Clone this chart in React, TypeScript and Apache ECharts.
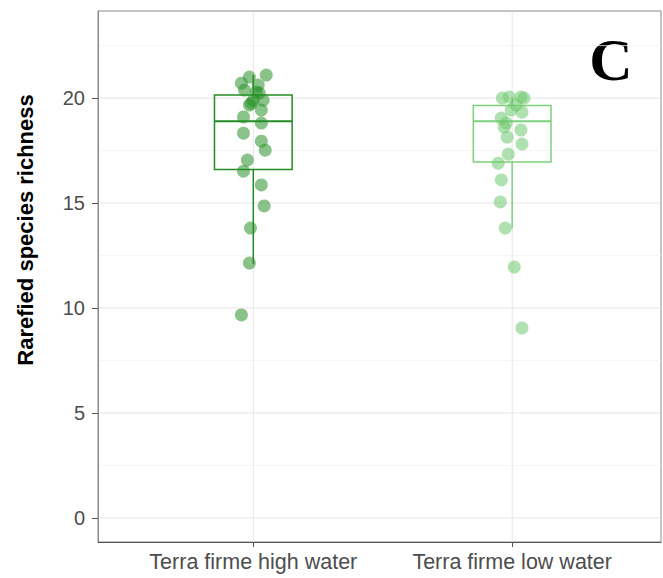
import React, { useEffect, useRef } from "react";
import * as echarts from "echarts";

const categories = ["Terra firme high water", "Terra firme low water"];
const categoryPositions = [1, 2];

// box statistics per group
const whiskerLow = [12.1, 13.8];
const quartile1 = [16.6, 16.95];
const medians = [18.9, 18.9];
const quartile3 = [20.15, 19.65];
const whiskerHigh = [21.1, 20.05];

// jittered points: [offset from category centre, value]
const highWaterPoints: [number, number][] = [
  [-0.046, 9.67], [-0.015, 12.14], [-0.011, 13.81], [0.042, 14.86], [0.031, 15.86],
  [-0.038, 16.52], [-0.023, 17.05], [0.046, 17.52], [0.031, 17.95], [-0.038, 18.33],
  [0.031, 18.81], [-0.038, 19.1], [0.031, 19.43], [-0.015, 19.67], [-0.008, 19.76],
  [0.0, 19.9], [0.038, 19.9], [0.023, 20.24], [0.011, 20.29], [-0.034, 20.38],
  [0.019, 20.62], [-0.046, 20.71], [-0.015, 21.0], [0.05, 21.1],
];
const lowWaterPoints: [number, number][] = [
  [-0.038, 20.0], [-0.011, 20.05], [0.034, 20.05], [0.046, 20.0], [0.015, 19.67],
  [-0.004, 19.43], [0.038, 19.33], [-0.042, 19.05], [-0.023, 18.81], [-0.031, 18.62],
  [0.034, 18.48], [-0.019, 18.14], [0.038, 17.81], [-0.015, 17.33], [-0.054, 16.9],
  [-0.042, 16.1], [-0.046, 15.05], [-0.027, 13.81], [0.008, 11.95], [0.038, 9.05],
];

const yTicks = [0, 5, 10, 15, 20];
const yMinorGrid = [2.5, 7.5, 12.5, 17.5, 22.5];
const yMin = -1.15;
const yMax = 24.15;
const xMin = 0.4;
const xMax = 2.575;

const boxColors = ["#238b23", "#7ccf7c"];
const pointColors = ["rgba(40,145,40,0.68)", "rgba(110,200,110,0.68)"];

export default function App() {
  const ref = useRef<HTMLDivElement>(null);
  useEffect(() => {
    if (!ref.current) return;
    const chart = echarts.init(ref.current, null, { renderer: "svg" });

    const boxData = categoryPositions.map((p, i) => [
      p, whiskerLow[i], quartile1[i], medians[i], quartile3[i], whiskerHigh[i], i,
    ]);

    const hLineRender = (color: string, width: number) => (params: any, api: any) => {
      const cs = params.coordSys;
      const y = api.coord([xMin, api.value(0)])[1];
      return {
        type: "line",
        shape: { x1: cs.x, y1: y, x2: cs.x + cs.width, y2: y },
        style: { stroke: color, lineWidth: width },
        silent: true,
      };
    };

    chart.setOption({
      animation: false,
      grid: {
        left: 98, top: 11, right: 2, bottom: 36,
        show: true, borderColor: "#8a8a8a", borderWidth: 1, backgroundColor: "#ffffff",
      },
      xAxis: {
        type: "value",
        min: xMin,
        max: xMax,
        splitLine: { show: false },
        axisLine: { show: true, onZero: false, lineStyle: { color: "#555555", width: 1 } },
        axisTick: { show: true, customValues: categoryPositions, length: 5, lineStyle: { color: "#555555" } },
        axisLabel: {
          customValues: categoryPositions,
          formatter: (v: number) => categories[Math.round(v) - 1] ?? "",
          color: "#4d4d4d",
          fontSize: 21.5,
          fontFamily: "Liberation Sans, Arial, sans-serif",
          margin: 9,
        },
      },
      yAxis: {
        type: "value",
        min: yMin,
        max: yMax,
        splitLine: { show: false },
        axisLine: { show: true, onZero: false, lineStyle: { color: "#8a8a8a", width: 1 } },
        axisTick: { show: true, customValues: yTicks, length: 6, lineStyle: { color: "#555555" } },
        axisLabel: {
          customValues: yTicks,
          color: "#4d4d4d",
          fontSize: 20,
          fontFamily: "Liberation Sans, Arial, sans-serif",
          margin: 13,
        },
      },
      graphic: [
        {
          type: "text",
          x: 25,
          y: 230,
          rotation: Math.PI / 2,
          style: {
            text: "Rarefied species richness",
            fill: "#000000",
            font: "bold 22px 'Liberation Sans', Arial, sans-serif",
            textAlign: "center",
            textVerticalAlign: "middle",
          },
        },
        {
          type: "text",
          x: 611,
          y: 60,
          style: {
            text: "C",
            fill: "#000000",
            font: "bold 60px 'Liberation Serif', 'Times New Roman', serif",
            textAlign: "center",
            textVerticalAlign: "middle",
          },
        },
      ],
      series: [
        {
          type: "custom",
          name: "minorGrid",
          data: yMinorGrid.map((v) => [v]),
          renderItem: hLineRender("#f4f4f4", 0.8),
          silent: true,
          z: 0,
        },
        {
          type: "custom",
          name: "majorGrid",
          data: yTicks.map((v) => [v]),
          renderItem: hLineRender("#e6e6e6", 1),
          silent: true,
          z: 0,
        },
        {
          type: "custom",
          name: "vGrid",
          data: categoryPositions.map((v) => [v]),
          renderItem: (params: any, api: any) => {
            const cs = params.coordSys;
            const x = api.coord([api.value(0), yMin])[0];
            return {
              type: "line",
              shape: { x1: x, y1: cs.y, x2: x, y2: cs.y + cs.height },
              style: { stroke: "#e6e6e6", lineWidth: 1 },
              silent: true,
            };
          },
          silent: true,
          z: 0,
        },
        {
          type: "custom",
          name: "boxes",
          data: boxData,
          z: 2,
          renderItem: (params: any, api: any) => {
            const x = api.value(0);
            const lo = api.value(1);
            const q1 = api.value(2);
            const med = api.value(3);
            const q3 = api.value(4);
            const hi = api.value(5);
            const idx = api.value(6);
            const color = boxColors[idx];
            const hw = 0.15;
            const tl = api.coord([x - hw, q3]);
            const br = api.coord([x + hw, q1]);
            const mL = api.coord([x - hw, med]);
            const mR = api.coord([x + hw, med]);
            const c = api.coord([x, lo]);
            const cHi = api.coord([x, hi]);
            const style = { stroke: color, lineWidth: 1.5, fill: "none" };
            return {
              type: "group",
              children: [
                { type: "line", shape: { x1: c[0], y1: br[1], x2: c[0], y2: c[1] }, style },
                { type: "line", shape: { x1: c[0], y1: tl[1], x2: c[0], y2: cHi[1] }, style },
                {
                  type: "rect",
                  shape: { x: tl[0], y: tl[1], width: br[0] - tl[0], height: br[1] - tl[1] },
                  style,
                },
                { type: "line", shape: { x1: mL[0], y1: mL[1], x2: mR[0], y2: mR[1] }, style: { ...style, lineWidth: 2 } },
              ],
            };
          },
        },
        {
          type: "scatter",
          name: categories[0],
          data: highWaterPoints.map(([o, v]) => [categoryPositions[0] + o, v]),
          symbolSize: 13,
          itemStyle: { color: pointColors[0] },
          z: 3,
        },
        {
          type: "scatter",
          name: categories[1],
          data: lowWaterPoints.map(([o, v]) => [categoryPositions[1] + o, v]),
          symbolSize: 13,
          itemStyle: { color: pointColors[1] },
          z: 3,
        },
      ],
    });
    return () => chart.dispose();
  }, []);
  return (
    <div
      ref={ref}
      style={{ position: "fixed", left: 0, top: 0, width: 663, height: 578, background: "#ffffff" }}
    />
  );
}
